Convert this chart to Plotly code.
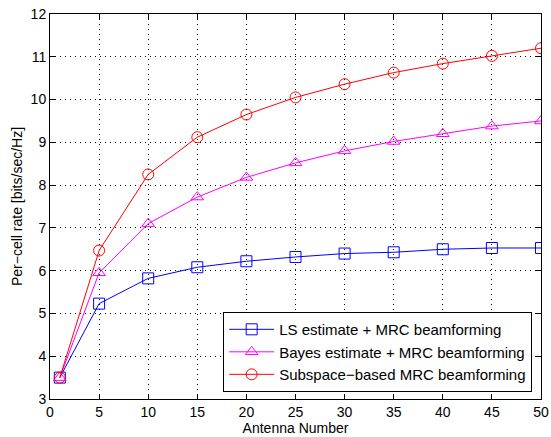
import plotly.graph_objects as go

antennas = [1, 5, 10, 15, 20, 25, 30, 35, 40, 45, 50]
ls_mrc = [3.5, 5.23, 5.82, 6.08, 6.22, 6.32, 6.40, 6.43, 6.50, 6.53, 6.53]
bayes_mrc = [3.5, 5.95, 7.10, 7.72, 8.18, 8.52, 8.80, 9.02, 9.20, 9.38, 9.50]
subspace_mrc = [3.5, 6.47, 8.25, 9.12, 9.65, 10.05, 10.36, 10.63, 10.84, 11.02, 11.20]

series = [
    ("LS estimate + MRC beamforming", ls_mrc, "#0000ff", "square-open"),
    ("Bayes estimate + MRC beamforming", bayes_mrc, "#ff00ff", "triangle-up-open"),
    ("Subspace\u2212based MRC beamforming", subspace_mrc, "#ff0000", "circle-open"),
]

fig = go.Figure()
for name, vals, color, sym in series:
    fig.add_trace(go.Scatter(
        x=antennas, y=vals, name=name, mode="lines+markers",
        line=dict(color=color, width=1),
        marker=dict(symbol=sym, size=11, color=color, line=dict(width=1, color=color)),
    ))

font = dict(family="Liberation Sans, Arial, sans-serif", size=14, color="black")
axis_common = dict(
    showline=True, linecolor="black", linewidth=1, mirror="allticks",
    ticks="inside", ticklen=5, tickcolor="black",
    showgrid=True, gridcolor="black", griddash="1px,4px", gridwidth=1,
    zeroline=False, tickfont=font, automargin=False,
)
fig.update_layout(
    width=551, height=437,
    margin=dict(l=50, r=10, t=14, b=38),
    paper_bgcolor="white", plot_bgcolor="white",
    font=font,
    showlegend=True,
    legend=dict(
        x=0.982, y=0.018, xanchor="right", yanchor="bottom",
        bgcolor="white", bordercolor="black", borderwidth=1,
        font=dict(family="Liberation Sans, Arial, sans-serif", size=15, color="black"),
        tracegroupgap=0, itemwidth=45,
    ),
    xaxis=dict(range=[0, 50], dtick=5, tick0=0,
               title=dict(text="Antenna Number", font=font, standoff=0), **axis_common),
    yaxis=dict(range=[3, 12], dtick=1, tick0=3,
               title=dict(text="Per\u2212cell rate [bits/sec/Hz]", font=font, standoff=4), **axis_common),
)
fig.write_html("out.html", config={"displayModeBar": False},
               post_script="document.body.style.margin='0';")
